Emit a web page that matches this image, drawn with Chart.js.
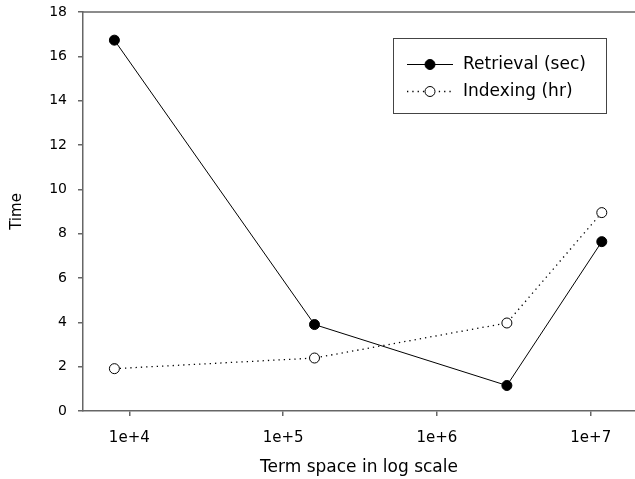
<!DOCTYPE html>
<html lang="en">
<head>
    <meta charset="UTF-8">
    <title>Time vs term space</title>
    <script src="https://cdn.jsdelivr.net/npm/chart.js"></script>
    <style>
        body { margin: 0; background: #fff; overflow: hidden; }
        #wrap { width: 635px; height: 479px; }
    </style>
</head>
<body>

    <div id="wrap">
        <canvas id="chartTime"></canvas>
    </div>

    <script>
        // Data
        let termSpace = [8000, 160000, 2850000, 11800000];
        let retrievalSec = [16.73, 3.9, 1.15, 7.64];
        let indexingHr = [1.91, 2.39, 3.97, 8.95];
        let xTicks = [1e4, 1e5, 1e6, 1e7];
        let yTicks = [0, 2, 4, 6, 8, 10, 12, 14, 16, 18];

        let axisColor = "#666";
        let fontFamily = "'DejaVu Sans', sans-serif";

        function toPoints(ys) {
            return termSpace.map((x, i) => ({ x: x, y: ys[i] }));
        }

        // top frame line + boxed legend with line samples
        let framePlugin = {
            id: "frame",
            afterDraw(chart) {
                let ctx = chart.ctx;
                let area = chart.chartArea;
                ctx.save();
                ctx.strokeStyle = axisColor;
                ctx.lineWidth = 1.5;
                ctx.beginPath();
                ctx.moveTo(area.left, area.top);
                ctx.lineTo(area.right, area.top);
                ctx.stroke();

                ctx.strokeStyle = "#444";
                ctx.lineWidth = 1;
                ctx.strokeRect(393.5, 38.5, 213, 75);

                let rows = [64.5, 91.5];
                chart.data.datasets.forEach((ds, i) => {
                    let y = rows[i];
                    ctx.strokeStyle = ds.borderColor;
                    ctx.lineWidth = ds.borderWidth;
                    ctx.setLineDash(ds.borderDash || []);
                    ctx.beginPath();
                    ctx.moveTo(407, y);
                    ctx.lineTo(453, y);
                    ctx.stroke();
                    ctx.setLineDash([]);
                    ctx.beginPath();
                    ctx.arc(430, y, ds.pointRadius, 0, Math.PI * 2);
                    ctx.fillStyle = ds.pointBackgroundColor;
                    ctx.fill();
                    ctx.strokeStyle = "#000";
                    ctx.lineWidth = 1;
                    ctx.stroke();
                    ctx.fillStyle = "#000";
                    ctx.font = "17px " + fontFamily;
                    ctx.textBaseline = "middle";
                    ctx.fillText(ds.label, 463, y + 0.5);
                });
                ctx.restore();
            }
        };

        let ctx1 = document.getElementById("chartTime").getContext("2d");
        new Chart(ctx1, {
            type: "line",
            data: {
                datasets: [{
                    label: "Retrieval (sec)",
                    data: toPoints(retrievalSec),
                    borderColor: "#000",
                    borderWidth: 1,
                    pointRadius: 5,
                    pointBackgroundColor: "#000",
                    pointBorderColor: "#000",
                    pointBorderWidth: 1,
                    tension: 0
                }, {
                    label: "Indexing (hr)",
                    data: toPoints(indexingHr),
                    borderColor: "#000",
                    borderWidth: 1.3,
                    borderDash: [1.3, 4],
                    pointRadius: 5,
                    pointBackgroundColor: "#fff",
                    pointBorderColor: "#000",
                    pointBorderWidth: 1,
                    tension: 0
                }]
            },
            options: {
                responsive: true,
                maintainAspectRatio: false,
                animation: false,
                layout: { autoPadding: false, padding: { top: 12, right: 0, left: 0, bottom: 0 } },
                plugins: {
                    legend: { display: false },
                    tooltip: { enabled: false }
                },
                scales: {
                    x: {
                        type: "logarithmic",
                        min: 5000,
                        max: 1.94e7,
                        afterBuildTicks: scale => {
                            scale.ticks = xTicks.map(v => ({ value: v }));
                        },
                        afterFit: scale => {
                            scale.height = 68;
                            scale.paddingLeft = 0;
                            scale.paddingRight = 0;
                        },
                        ticks: {
                            color: "#000",
                            font: { family: fontFamily, size: 15 },
                            padding: 13,
                            maxRotation: 0,
                            callback: v => "1e+" + Math.round(Math.log10(v))
                        },
                        grid: { drawOnChartArea: false, drawTicks: true, tickLength: 5, color: axisColor, lineWidth: 1.5 },
                        border: { display: true, color: axisColor, width: 1.5 },
                        title: {
                            display: true,
                            text: "Term space in log scale",
                            color: "#000",
                            font: { family: fontFamily, size: 17 },
                            padding: { top: 0, bottom: 1 }
                        }
                    },
                    y: {
                        min: 0,
                        max: 18,
                        afterBuildTicks: scale => {
                            scale.ticks = yTicks.map(v => ({ value: v }));
                        },
                        afterFit: scale => {
                            scale.width = 83;
                            scale.paddingTop = 0;
                            scale.paddingBottom = 0;
                        },
                        ticks: {
                            color: "#000",
                            font: { family: fontFamily, size: 14 },
                            padding: 11
                        },
                        grid: { drawOnChartArea: false, drawTicks: true, tickLength: 5, color: axisColor, lineWidth: 1.5 },
                        border: { display: true, color: axisColor, width: 1.5 },
                        title: {
                            display: true,
                            text: "Time",
                            color: "#000",
                            font: { family: fontFamily, size: 15 },
                            padding: { top: 8, bottom: 0 }
                        }
                    }
                }
            },
            plugins: [framePlugin]
        });
    </script>

</body>
</html>
